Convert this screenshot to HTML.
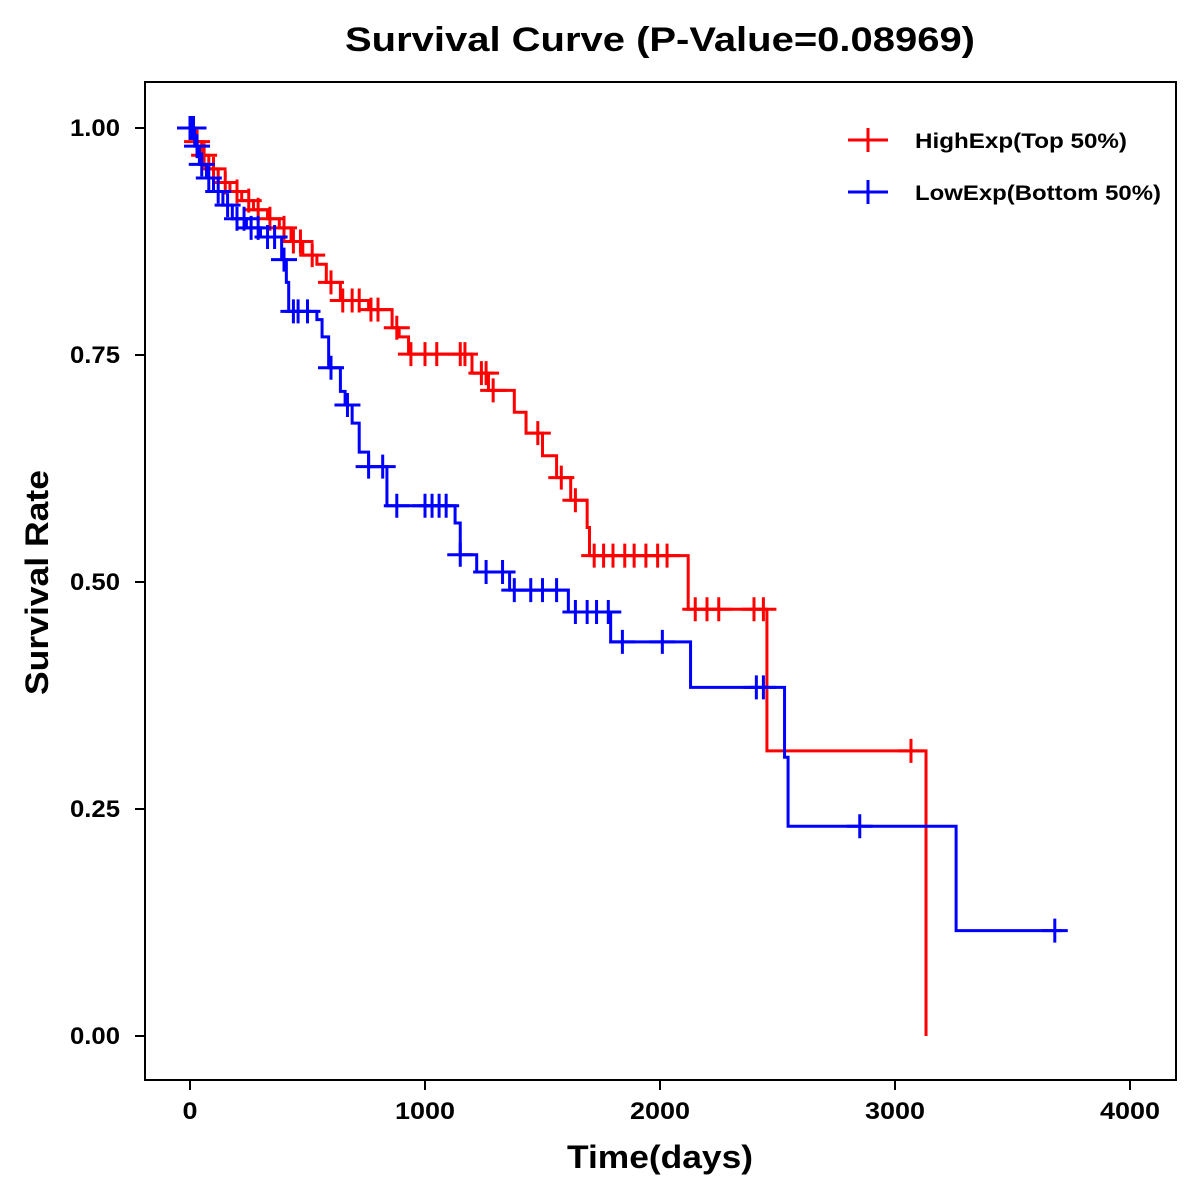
<!DOCTYPE html>
<html><head><meta charset="utf-8"><style>
body{margin:0;background:#fff}
svg{display:block;font-family:"Liberation Sans",Arial,sans-serif}
</style></head><body>
<svg id="chart" width="1200" height="1200" viewBox="0 0 1200 1200">
<rect width="1200" height="1200" fill="#fff"/>
<text x="345" y="51" font-size="34" font-weight="bold" textLength="630" lengthAdjust="spacingAndGlyphs">Survival Curve (P-Value=0.08969)</text>
<rect x="145" y="82" width="1031" height="998" fill="none" stroke="#000" stroke-width="2"/>
<g id="axes"></g>
<g id="series"></g>
<text x="567" y="1168" font-size="32" font-weight="bold" textLength="186" lengthAdjust="spacingAndGlyphs">Time(days)</text>
<text transform="translate(48,695) rotate(-90)" font-size="32" font-weight="bold" textLength="225" lengthAdjust="spacingAndGlyphs">Survival Rate</text>
<g>
<g>
<line x1="848" y1="140" x2="888" y2="140" stroke="#f00" stroke-width="3"/><line x1="868" y1="128" x2="868" y2="152" stroke="#f00" stroke-width="3"/>
<text x="915" y="148" font-size="21" font-weight="bold" textLength="212" lengthAdjust="spacingAndGlyphs">HighExp(Top 50%)</text></g>
<g>
<line x1="848" y1="192" x2="888" y2="192" stroke="#00f" stroke-width="3"/><line x1="868" y1="180" x2="868" y2="204" stroke="#00f" stroke-width="3"/>
<text x="915" y="200" font-size="21" font-weight="bold" textLength="246" lengthAdjust="spacingAndGlyphs">LowExp(Bottom 50%)</text></g>
</g>
</svg>
<script>
const xTicks=[0,1000,2000,3000,4000];
const yTicks=[0,0.25,0.5,0.75,1.0];
const yTickLabels=["0.00","0.25","0.50","0.75","1.00"];
const highTimes=[0,20,50,80,120,170,220,270,330,380,430,480,540,580,640,760,860,890,930,1200,1270,1380,1430,1500,1560,1620,1690,1700,2120,2455,3132];
const highSurv=[1.0,0.985,0.97,0.955,0.94,0.93,0.92,0.91,0.90,0.89,0.875,0.86,0.85,0.83,0.81,0.80,0.78,0.77,0.751,0.73,0.711,0.687,0.664,0.639,0.615,0.59,0.56,0.529,0.47,0.314,0.0];
const highEnd=3132;
const highCensor=[10,30,60,100,150,200,250,290,340,400,440,470,520,600,650,690,720,770,800,880,940,1000,1050,1150,1170,1240,1260,1290,1480,1580,1640,1720,1760,1800,1850,1890,1940,1990,2030,2150,2200,2250,2400,2440,3068];
const lowTimes=[0,20,40,70,100,140,180,240,300,390,410,420,540,562,590,640,660,690,720,760,838,1128,1150,1220,1360,1610,1790,2130,2530,2545,3260];
const lowSurv=[1.0,0.98,0.96,0.945,0.93,0.915,0.90,0.89,0.88,0.855,0.83,0.798,0.789,0.77,0.736,0.71,0.695,0.675,0.643,0.627,0.584,0.565,0.53,0.511,0.491,0.467,0.434,0.384,0.307,0.231,0.116];
const lowEnd=3710;
const lowCensor=[0,5,15,30,50,80,120,160,200,230,260,290,330,360,400,440,460,500,600,670,760,820,880,1000,1030,1060,1090,1150,1260,1330,1380,1450,1500,1560,1640,1690,1730,1780,1840,2010,2410,2440,2850,3680];
const X=t=>190+t*0.235, Y=s=>1036-s*908;
const NS="http://www.w3.org/2000/svg";
function mk(tag,attrs,parent){const e=document.createElementNS(NS,tag);for(const k in attrs)e.setAttribute(k,attrs[k]);parent.appendChild(e);return e;}
const axes=document.getElementById('axes');
xTicks.forEach(v=>{
 const l=mk('line',{x1:X(v),x2:X(v),y1:1080,y2:1090,stroke:'#000','stroke-width':2},axes);
 
 
 const w=String(v).length*15;
 const t=mk('text',{x:X(v)-w/2,y:1119,'font-size':24,'font-weight':'bold',textLength:w,lengthAdjust:'spacingAndGlyphs'},axes);t.textContent=v;
 
 
});
yTicks.forEach((v,i)=>{
 const l=mk('line',{x1:135,x2:145,y1:Y(v),y2:Y(v),stroke:'#000','stroke-width':2},axes);
 
 
 const t=mk('text',{x:70,y:Y(v)+8,'font-size':24,'font-weight':'bold',textLength:50,lengthAdjust:'spacingAndGlyphs'},axes);t.textContent=yTickLabels[i];
 
 
});
function survAt(times,surv,t){let s=surv[0];for(let i=0;i<times.length;i++){if(times[i]<=t)s=surv[i];}return s;}
function draw(times,surv,end,cens,color,name){
 const g=mk('g',{},document.getElementById('series'));
 
 
 let d='M'+X(times[0])+','+Y(surv[0]);
 for(let i=1;i<times.length;i++){d+=' H'+X(times[i])+' V'+Y(surv[i]);}
 d+=' H'+X(Math.max(end,times[times.length-1]));
 const p=mk('path',{d:d,fill:'none',stroke:color,'stroke-width':3},g);
 
 
 cens.forEach(c=>{
  const s=survAt(times,surv,c),cx=X(c),cy=Y(s);
  const m=mk('path',{d:`M${cx-13},${cy} H${cx+13} M${cx},${cy-12} V${cy+12}`,stroke:color,'stroke-width':3,fill:'none'},g);
  
  
 });
}
draw(highTimes,highSurv,highEnd,highCensor,'#f00','high-exp');
draw(lowTimes,lowSurv,lowEnd,lowCensor,'#00f','low-exp');
</script>
</body></html>
